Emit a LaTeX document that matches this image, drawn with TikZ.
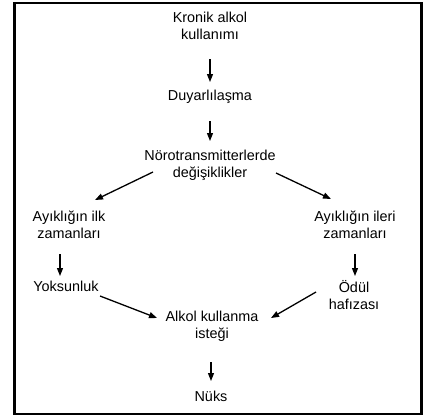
\documentclass[tikz,border=0pt]{standalone}
\usepackage{fontspec}
\setmainfont{Liberation Sans}
\usetikzlibrary{arrows.meta}
\begin{document}
\begin{tikzpicture}[x=1pt,y=-1pt,
  lbl/.style={align=center,inner sep=0pt,font=\fontsize{14.4}{17}\selectfont},
  flow/.style={-{Triangle[length=8pt,width=6pt]},line width=1.3pt}]
\useasboundingbox (0,0) rectangle (428,418);
\draw[line width=2.4pt] (14.5,3) rectangle (421.5,414);

\node[lbl] (kronik) at (210,26) {Kronik alkol\\kullanımı};
\node[lbl] (duyar) at (210,97) {Duyarlılaşma};
\node[lbl] (noro) at (210,165) {Nörotransmitterlerde\\değişiklikler};
\node[lbl] (ilk) at (69,225) {Ayıklığın ilk\\zamanları};
\node[lbl] (ileri) at (355,225) {Ayıklığın ileri\\zamanları};
\node[lbl] (yoksun) at (66,286) {Yoksunluk};
\node[lbl] (odul) at (354,295) {Ödül\\hafızası};
\node[lbl] (istek) at (212,326) {Alkol kullanma\\isteği};
\node[lbl] (nuks) at (211,396) {Nüks};

\coordinate (a1s) at (210,59);  \coordinate (a1e) at (210,82);
\coordinate (a2s) at (210,121); \coordinate (a2e) at (210,141);
\coordinate (l1s) at (153,172); \coordinate (l1e) at (95,200);
\coordinate (r1s) at (276,173); \coordinate (r1e) at (331,199);
\coordinate (l2s) at (60,254);  \coordinate (l2e) at (60,276);
\coordinate (r2s) at (355,254); \coordinate (r2e) at (355,276);
\coordinate (l3s) at (100,296); \coordinate (l3e) at (157,318);
\coordinate (r3s) at (316,292); \coordinate (r3e) at (271,318);
\coordinate (a3s) at (211,362); \coordinate (a3e) at (211,381);

\draw[flow] (a1s) -- (a1e);
\draw[flow] (a2s) -- (a2e);
\draw[flow] (l1s) -- (l1e);
\draw[flow] (r1s) -- (r1e);
\draw[flow] (l2s) -- (l2e);
\draw[flow] (r2s) -- (r2e);
\draw[flow] (l3s) -- (l3e);
\draw[flow] (r3s) -- (r3e);
\draw[flow] (a3s) -- (a3e);
\end{tikzpicture}
\end{document}
